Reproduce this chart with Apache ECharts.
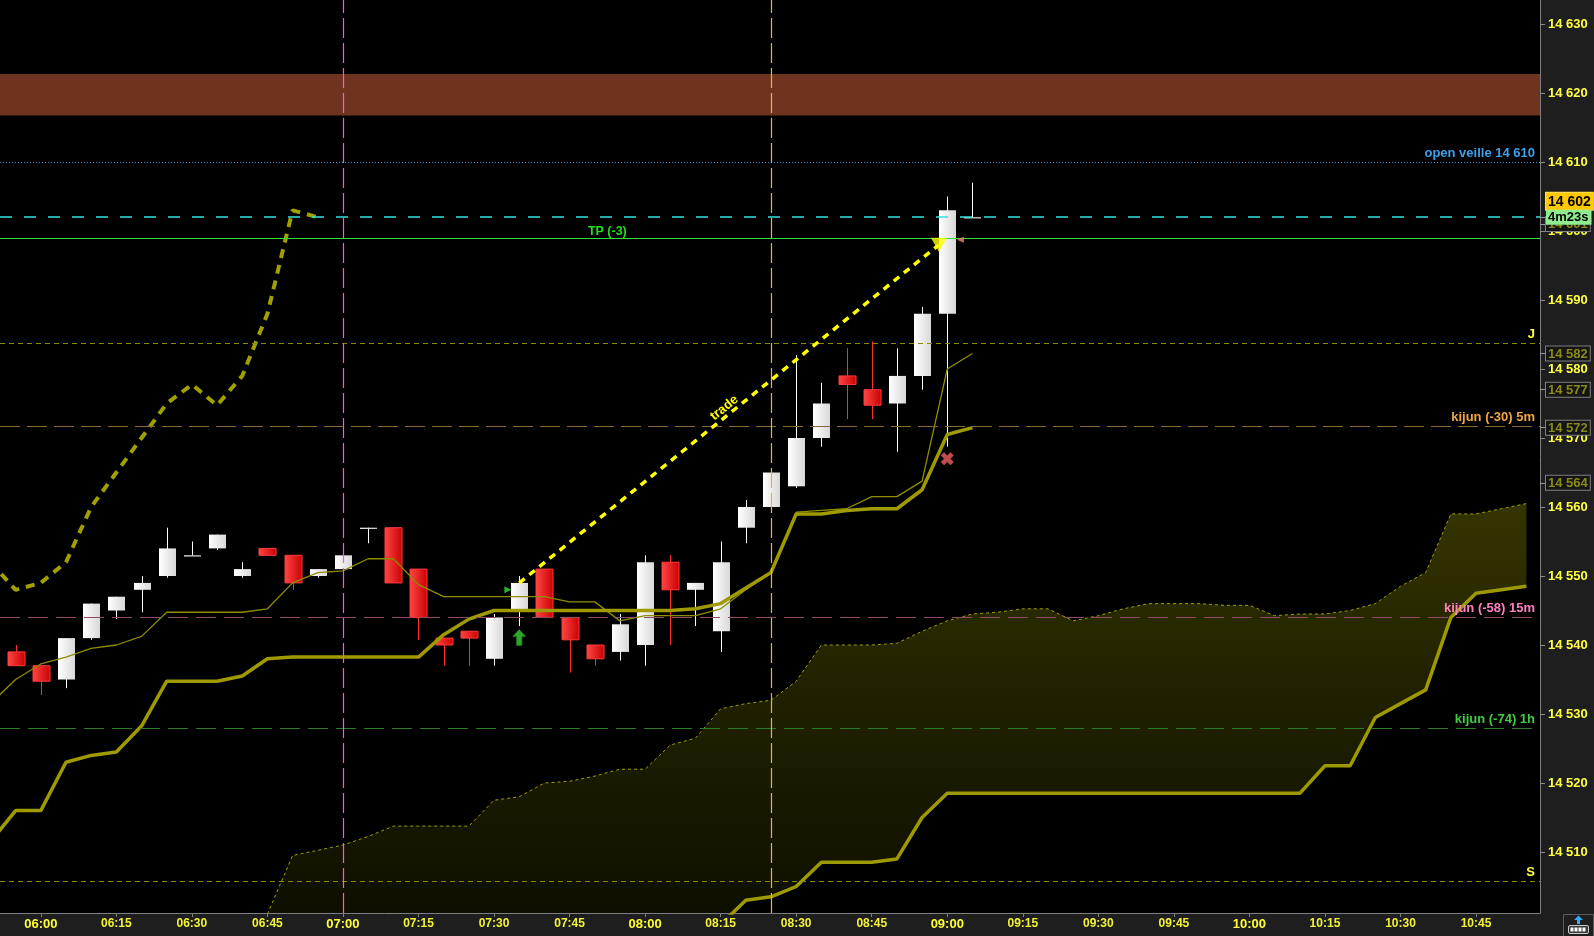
<!DOCTYPE html>
<html>
<head>
<meta charset="utf-8">
<title>Ichimoku 5m</title>
<script src="https://cdn.jsdelivr.net/npm/echarts@6.0.0/dist/echarts.min.js"></script>
<style>
html,body{margin:0;padding:0;background:#1e1e1e;overflow:hidden;}
#chart{width:1594px;height:936px;}
</style>
</head>
<body>
<div id="chart"></div>
<script>
// ================= DATA =================
const lineTimes = ['05:50','05:55','06:00','06:05','06:10','06:15','06:20','06:25','06:30','06:35','06:40','06:45',
  '06:50','06:55','07:00','07:05','07:10','07:15','07:20','07:25','07:30','07:35','07:40','07:45','07:50','07:55',
  '08:00','08:05','08:10','08:15','08:20','08:25','08:30','08:35','08:40','08:45','08:50','08:55','09:00','09:05'];
const candleTimes = lineTimes.slice(1);
const opens  = [14539,14537,14535,14541,14545,14548,14550,14553,14554,14550,14554,14553,14550,14551,14557,14557,14551,14541,14542,14538,
  14545,14551,14544,14540,14539,14540,14552,14548,14542,14557,14560,14563,14570,14579,14577,14575,14579,14588,14602];
const closes = [14537,14534.75,14541,14546,14547,14549,14554,14553,14556,14551,14553,14549,14551,14553,14557,14549,14544,14540,14541,14544,
  14549,14544,14540.75,14538,14543,14552,14548,14549,14552,14560,14565,14570,14575,14577.75,14574.75,14579,14588,14603,14602];
const lows   = [14537,14532.75,14533.75,14540.75,14543.75,14544.75,14549.75,14553,14553.75,14549.75,14553,14548,14549.75,14551,14554.75,14549,14540.75,14537,14537,14537,
  14542.75,14544,14536,14537,14537.75,14537,14540,14542.75,14539,14554.75,14559.5,14562.75,14568.75,14572.75,14572.75,14568,14577,14568.75,14602];
const highs  = [14540,14537,14541,14546,14547,14550,14557,14555,14556,14552,14554,14553,14551,14554,14557,14557,14551,14541,14542,14544.5,
  14550,14551,14544,14540,14544.5,14553,14553,14549,14555,14561,14565,14582,14578,14583,14584,14583,14589,14605,14607];

const tenkan = [14531.5,14535,14537.25,14538.25,14539.5,14540,14541.25,14544.75,14544.75,14544.75,14544.75,14545.25,14549,14550.5,
  14550.75,14552.5,14552.5,14548.75,14547,14547,14547,14547,14547,14546.25,14546.25,14543.5,14544.25,14544.25,14544.25,14545.25,
  14548,14550.5,14559.25,14559.5,14559.75,14561.5,14561.5,14563.75,14580,14582.25];
const kijun = [14511.5,14516,14516,14523,14524,14524.5,14528.25,14534.75,14534.75,14534.75,14535.5,14538,14538.25,14538.25,
  14538.25,14538.25,14538.25,14538.25,14541.5,14543.75,14545,14545,14545,14545,14545,14545,14545,14545,14545.25,14546,
  14548.25,14550.5,14559,14559,14559.5,14559.75,14559.75,14562.5,14570.5,14571.5];
const chikouTimes = lineTimes.slice(0, 14);
const chikou = [14552,14548,14549,14552,14560,14565,14570,14575,14577.75,14574.75,14579,14588,14603,14602];

const cloudTimes = ['06:45','06:50','06:55',
  '07:00','07:05','07:10','07:15','07:20','07:25','07:30','07:35','07:40','07:45','07:50','07:55',
  '08:00','08:05','08:10','08:15','08:20','08:25','08:30','08:35','08:40','08:45','08:50','08:55',
  '09:00','09:05','09:10','09:15','09:20','09:25','09:30','09:35','09:40','09:45','09:50','09:55',
  '10:00','10:05','10:10','10:15','10:20','10:25','10:30','10:35','10:40','10:45','10:50','10:55'];
const senkouA = [14501,14509.5,14510.25,
  14511,14512.25,14513.75,14513.75,14513.75,14513.75,14517.5,14518,14520,14520.25,14521,14522,
  14522,14525.5,14526.5,14530.75,14531.5,14532,14534.75,14540,14540,14540,14540.25,14542,
  14543.5,14544.5,14544.75,14545.25,14545.25,14543.5,14544.25,14545.25,14546,14546,14546,14545.75,
  14545.75,14544.25,14544.5,14544.5,14545,14546,14548.5,14550.5,14559,14559,14559.75,14560.5];
const senkouB = [14494,14494,14494,
  14494,14495,14495,14495,14495,14495,14495,14495,14495,14495,14496,14496,
  14496,14496,14497,14499.5,14503,14503.5,14505,14508.5,14508.5,14508.5,14509,14515,
  14518.5,14518.5,14518.5,14518.5,14518.5,14518.5,14518.5,14518.5,14518.5,14518.5,14518.5,14518.5,
  14518.5,14518.5,14518.5,14522.5,14522.5,14529.5,14531.5,14533.5,14544,14547.5,14548,14548.5];

const xTickLabels = ['06:00','06:15','06:30','06:45','07:00','07:15','07:30','07:45','08:00','08:15','08:30','08:45',
  '09:00','09:15','09:30','09:45','10:00','10:15','10:30','10:45'];
const yTickLabels = [14510,14520,14530,14540,14550,14560,14570,14580,14590,14600,14610,14620,14630];

const levelValues = [14610, 14602, 14599, 14583.75, 14571.75, 14544, 14528, 14505.75];
const levelLabels = ['open veille 14 610', '', '', 'J', 'kijun (-30) 5m', 'kijun (-58) 15m', 'kijun (-74) 1h', 'S'];
const bandRange = [14616.75, 14622.75];
const sessionLines = ['07:00', '08:25'];
const tradeStart = ['07:35', 14549];
const tradeEnd = ['08:58:20', 14598];
const tradeText = 'trade';
const tpText = { t: '07:52:30', v: 14599, text: 'TP (-3)' };

const markerTimes  = ['07:32:45', '07:35', '08:58:20', '09:02:36', '09:00'];
const markerValues = [14548, 14541.1, 14598, 14598.75, 14567];
const markerKinds  = ['entry', 'buy', 'exit', 'tp', 'stop'];

const lastPrice = 14602;
const timerText = '4m23s';
const tagValues = [14601, 14582.25, 14577, 14571.5, 14563.5];

// ================= HELPERS =================
const FONT = '"Liberation Sans", Arial, Helvetica, sans-serif';
const tm = s => { const p = s.split(':').map(Number); return p[0] * 60 + p[1] + (p[2] || 0) / 60; };
const pad = n => String(n).padStart(2, '0');
const fmtT = m => { const r = Math.round(m); return pad(Math.floor(r / 60)) + ':' + pad(r % 60); };
const fmtP = v => { const s = String(Math.round(v)); return s.slice(0, s.length - 3) + ' ' + s.slice(-3); };

const X_MIN = 351.9, X_MAX = 657.7;
const Y_MIN = 14501.16, Y_MAX = 14633.48;

const G = echarts.graphic;
const whiteGrad = new G.LinearGradient(0, 0, 1, 0, [{offset: 0, color: '#ffffff'}, {offset: 1, color: '#d8d8d8'}]);
const redGrad = new G.LinearGradient(0, 0, 1, 0, [{offset: 0, color: '#ff4646'}, {offset: 1, color: '#c80000'}]);
const kumoGrad = new G.LinearGradient(0, 490, 0, 913, [{offset: 0, color: '#363600'}, {offset: 0.45, color: '#222200'}, {offset: 1, color: '#0f0f00'}], true);

const levelStyles = [
  {color: '#3a92d6', type: [1, 2], width: 1, text: '#3da0ea'},
  {color: '#33e2e2', type: [12, 12], width: 1.5},
  {color: '#33e033', type: 'solid', width: 1},
  {color: '#8a8a00', type: [5, 4], width: 1, text: '#ffff40'},
  {color: '#866a34', type: [20, 7], width: 1, text: '#f0a644'},
  {color: '#8f4a6a', type: [20, 8], width: 1, text: '#ff80c0'},
  {color: '#2c7c2c', type: [20, 8], width: 1, text: '#40cc40'},
  {color: '#8a8a00', type: [5, 4], width: 1, text: '#ffff40'}
];
const sessionStyles = [{color: '#ff55dd'}, {color: '#f0b040'}];

const markerStyle = {
  entry: {symbol: 'triangle', symbolSize: [7, 7], symbolRotate: -90, itemStyle: {color: '#33dd33'}},
  buy:   {symbol: 'path://M6,0 L12,7 L8.5,7 L8.5,16 L3.5,16 L3.5,7 L0,7 Z', symbolSize: [13, 16], itemStyle: {color: '#38d038', borderColor: '#1b7a1b', borderWidth: 0.8}},
  exit:  {symbol: 'triangle', symbolSize: [16, 14], symbolRotate: 180, itemStyle: {color: '#ffff00'}},
  tp:    {symbol: 'triangle', symbolSize: [6, 7], symbolRotate: 90, itemStyle: {color: '#ff7f7f'}},
  stop:  {symbol: 'path://M3,0 L6,3 L9,0 L12,3 L9,6 L12,9 L9,12 L6,9 L3,12 L0,9 L3,6 L0,3 Z', symbolSize: [13, 13], itemStyle: {color: '#f06060'}}
};

// ================= MARK LINES =================
const markLineData = [];
levelValues.forEach((v, i) => {
  const st = levelStyles[i];
  markLineData.push({
    yAxis: v,
    lineStyle: {color: st.color, type: st.type, width: st.width},
    label: levelLabels[i] ? {
      show: true, position: 'insideEndTop', formatter: levelLabels[i], color: st.text,
      fontFamily: FONT, fontWeight: 'bold', fontSize: 13, distance: [5, 2]
    } : {show: false}
  });
});
sessionLines.forEach((t, i) => {
  markLineData.push({
    xAxis: tm(t),
    lineStyle: {color: sessionStyles[i].color, type: [20, 5], width: 1.2},
    label: {show: false}
  });
});
markLineData.push([
  {coord: [tm(tradeStart[0]), tradeStart[1]],
   lineStyle: {color: '#ffff00', type: [7, 6], width: 3.5, cap: 'butt'},
   label: {show: true, position: 'insideMiddleTop', formatter: tradeText, color: '#ffff00',
           fontFamily: FONT, fontWeight: 'bold', fontSize: 13, distance: 1}},
  {coord: [tm(tradeEnd[0]), tradeEnd[1]]}
]);

// ================= OPTION =================
const cloudData = cloudTimes.map((t, i) => [tm(t), senkouA[i], senkouB[i]]);

const option = {
  animation: false,
  backgroundColor: '#1e1e1e',
  grid: {left: 0, right: 54, top: 0, bottom: 23, show: true, backgroundColor: '#000000', borderWidth: 0,
         containLabel: false, outerBoundsMode: 'none'},
  xAxis: {
    type: 'value', min: X_MIN, max: X_MAX,
    axisLine: {show: true, onZero: false, lineStyle: {color: '#7f7f7f', width: 1}},
    axisTick: {show: true, customValues: xTickLabels.map(tm), length: 4, lineStyle: {color: '#7f7f7f'}},
    axisLabel: {
      show: true, customValues: xTickLabels.map(tm), margin: 5,
      formatter: v => { const s = fmtT(v); return s.endsWith(':00') ? '{h|' + s + '}' : '{m|' + s + '}'; },
      rich: {
        h: {fontFamily: FONT, fontWeight: 'bold', fontSize: 13, color: '#ffff33'},
        m: {fontFamily: FONT, fontWeight: 'bold', fontSize: 12, color: '#f2f236'}
      }
    },
    splitLine: {show: false}
  },
  yAxis: [
    {
      type: 'value', position: 'right', min: Y_MIN, max: Y_MAX,
      axisLine: {show: true, lineStyle: {color: '#7f7f7f', width: 1}},
      axisTick: {show: true, customValues: yTickLabels, length: 5, lineStyle: {color: '#8a8a8a'}},
      axisLabel: {show: true, customValues: yTickLabels, formatter: v => fmtP(v), margin: 8,
                  color: '#ffff40', fontFamily: FONT, fontWeight: 'bold', fontSize: 13},
      splitLine: {show: false}
    },
    {
      type: 'value', position: 'right', min: Y_MIN, max: Y_MAX, offset: 0,
      axisLine: {show: false},
      axisTick: {show: true, customValues: tagValues.concat([lastPrice]), length: 5, lineStyle: {color: '#9a9a9a'}},
      axisLabel: {
        show: true, customValues: tagValues.concat([lastPrice]), margin: 6,
        formatter: v => v === lastPrice
          ? '{p|' + fmtP(v) + '}\n{t|' + timerText + '}\n{e| }'
          : '{o|' + fmtP(v) + '}',
        rich: {
          p: {fontFamily: FONT, fontWeight: 'bold', fontSize: 14, color: '#000000', backgroundColor: '#ffc800',
              borderColor: '#ffe060', borderWidth: 1, padding: [2, 2, 1, 2]},
          t: {fontFamily: FONT, fontWeight: 'bold', fontSize: 13, color: '#000000', backgroundColor: '#90ec90',
              padding: [1, 3, 1, 2]},
          e: {fontSize: 2, lineHeight: 17},
          o: {fontFamily: FONT, fontWeight: 'bold', fontSize: 13, color: '#8a8a14', backgroundColor: '#151515',
              borderColor: '#808080', borderWidth: 1, padding: [1, 2, 0, 2]}
        }
      },
      splitLine: {show: false}
    }
  ],
  series: [
    {
      name: 'kumoFill', type: 'custom', z: 1, clip: true, silent: true,
      data: cloudData,
      encode: {x: 0, y: [1, 2]},
      renderItem: (params, api) => {
        if (params.dataIndex !== 0) return null;
        const top = cloudData.map(d => api.coord([d[0], d[1]]));
        const bot = cloudData.map(d => api.coord([d[0], d[2]])).reverse();
        return {type: 'polygon', shape: {points: top.concat(bot)}, style: {fill: kumoGrad}};
      }
    },
    {
      name: 'senkouA', type: 'line', symbol: 'none', silent: true, z: 2,
      data: cloudTimes.map((t, i) => [tm(t), senkouA[i]]),
      lineStyle: {color: '#a0a000', width: 1, type: [3, 3]}
    },
    {
      name: 'senkouB', type: 'line', symbol: 'none', silent: true, z: 3,
      data: cloudTimes.map((t, i) => [tm(t), senkouB[i]]),
      lineStyle: {color: '#9c9a00', width: 3.5}
    },
    {
      name: 'levels', type: 'line', data: [], silent: true, z: 2,
      markArea: {silent: true, itemStyle: {color: '#6e3420'}, data: [[{yAxis: bandRange[0]}, {yAxis: bandRange[1]}]]},
      markLine: {silent: true, symbol: ['none', 'none'], animation: false, data: markLineData},
      markPoint: {
        silent: true, animation: false,
        data: [{
          coord: [tm(tpText.t), tpText.v], symbol: 'circle', symbolSize: 1, itemStyle: {color: 'rgba(0,0,0,0)'},
          label: {show: true, position: 'top', distance: -1, formatter: tpText.text, color: '#22dd22',
                  fontFamily: FONT, fontWeight: 'bold', fontSize: 12.5}
        }]
      }
    },
    {
      name: 'candles', type: 'custom', z: 2, clip: true, silent: true,
      data: candleTimes.map((t, i) => [tm(t), opens[i], closes[i], lows[i], highs[i]]),
      encode: {x: 0, y: [1, 2, 3, 4]},
      renderItem: (params, api) => {
        const t = api.value(0), o = api.value(1), c = api.value(2), lo = api.value(3), hi = api.value(4);
        const pO = api.coord([t, o]), pC = api.coord([t, c]), pH = api.coord([t, hi]), pL = api.coord([t, lo]);
        const up = c >= o;
        const x = Math.round(pO[0]) + 0.5;
        const top = Math.min(pO[1], pC[1]);
        const h = Math.max(Math.abs(pO[1] - pC[1]), 1.2);
        const w = 17;
        return {
          type: 'group',
          children: [
            {type: 'line', shape: {x1: x, y1: pH[1], x2: x, y2: pL[1]},
             style: {stroke: up ? '#ffffff' : '#ff3030', lineWidth: 1}},
            {type: 'rect', shape: {x: x - w / 2, y: top, width: w, height: h},
             style: up ? {fill: whiteGrad} : {fill: redGrad, stroke: '#ff3a3a', lineWidth: 1}}
          ]
        };
      }
    },
    {
      name: 'tenkan', type: 'line', symbol: 'none', silent: true, z: 4,
      data: lineTimes.map((t, i) => [tm(t), tenkan[i]]),
      lineStyle: {color: '#8e8c00', width: 1.3}
    },
    {
      name: 'kijun', type: 'line', symbol: 'none', silent: true, z: 4,
      data: lineTimes.map((t, i) => [tm(t), kijun[i]]),
      lineStyle: {color: '#9e9a00', width: 3.5}
    },
    {
      name: 'chikou', type: 'line', symbol: 'none', silent: true, z: 4,
      data: chikouTimes.map((t, i) => [tm(t), chikou[i]]),
      lineStyle: {color: '#a0a000', width: 4, type: [9, 7], cap: 'butt'}
    },
    {
      name: 'marks', type: 'scatter', silent: true, z: 6,
      data: markerTimes.map((t, i) => Object.assign({value: [tm(t), markerValues[i]]}, markerStyle[markerKinds[i]]))
    }
  ],
  graphic: [{
    type: 'group', silent: true,
    children: [
      {type: 'rect', shape: {x: 1563.5, y: 914.5, width: 30, height: 22}, style: {fill: '#1e1e1e', stroke: '#5a5a5a', lineWidth: 1}},
      {type: 'rect', shape: {x: 1568.5, y: 925.5, width: 20, height: 8, r: 1.5}, style: {fill: '#3a3a3a', stroke: '#c8c8c8', lineWidth: 1}},
      {type: 'rect', shape: {x: 1570.5, y: 927.5, width: 3, height: 4}, style: {fill: '#ffffff'}},
      {type: 'rect', shape: {x: 1574.5, y: 927.5, width: 3, height: 4}, style: {fill: '#ffffff'}},
      {type: 'rect', shape: {x: 1578.5, y: 927.5, width: 3, height: 4}, style: {fill: '#ffffff'}},
      {type: 'rect', shape: {x: 1582.5, y: 927.5, width: 3, height: 4}, style: {fill: '#ffffff'}},
      {type: 'polygon', shape: {points: [[1578.5, 915.5], [1583, 920], [1580, 920], [1580, 924], [1577, 924], [1577, 920], [1574, 920]]}, style: {fill: '#33aaff'}}
    ]
  }]
};

const chart = echarts.init(document.getElementById('chart'), null, {renderer: 'canvas'});
chart.setOption(option);
</script>
</body>
</html>
